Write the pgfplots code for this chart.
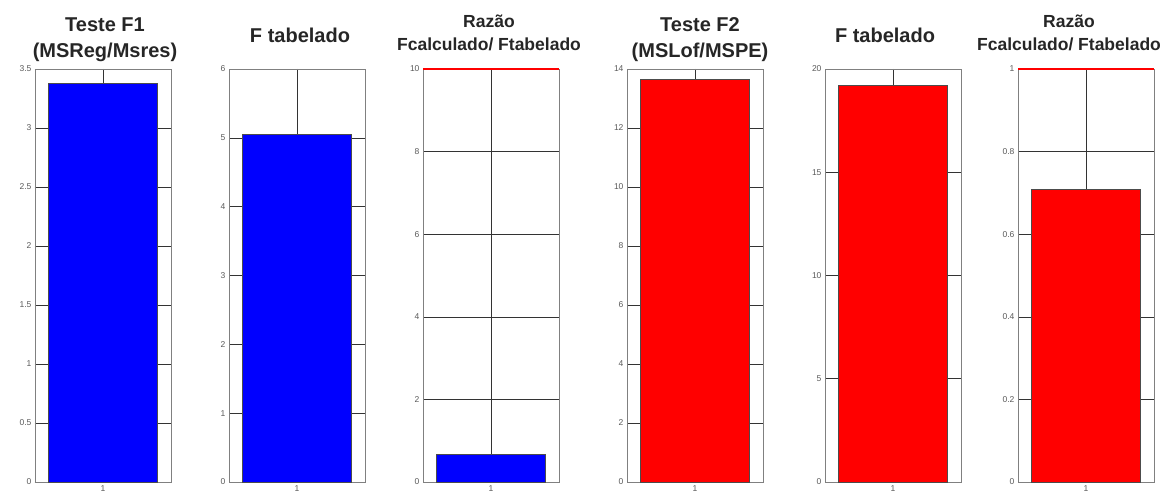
\documentclass[border=0pt]{standalone}
\usepackage{pgfplots}
\pgfplotsset{compat=1.18}
\usepackage{fontspec}
\setmainfont{Liberation Sans}
\definecolor{mblue}{RGB}{0,0,255}
\definecolor{mred}{RGB}{255,0,0}
\pgfplotsset{
 panel/.style={
  scale only axis, width=136pt, height=413pt, anchor=south west,
  xmin=0.5, xmax=1.5, ymin=0, xtick={1},
  grid=major, major grid style={black!80, line width=0.5pt},
  axis line style={black!50, line width=0.6pt}, tick style={black!80, line width=0.5pt},
  tick align=inside, major tick length=4pt,
  ticklabel style={font=\fontsize{8.5}{9}\selectfont, text=black!65},
  /pgf/number format/assume math mode=true,
  clip=false,
 },
 bluebar/.style={ybar, bar width=0.8, fill=mblue, draw=black!70, line width=0.5pt},
 redbar/.style={ybar, bar width=0.8, fill=mred, draw=black!70, line width=0.5pt},
}
\begin{document}
\begin{tikzpicture}
\useasboundingbox (0pt,0pt) rectangle (1171pt,500pt);
\tikzset{ttl/.style={anchor=base, font=\bfseries\fontsize{20}{22}\selectfont, text=black!85},
         ttls/.style={anchor=base, font=\bfseries\fontsize{17.5}{20}\selectfont, text=black!85}}
% Panel 1
\begin{axis}[panel, at={(35pt,18pt)}, ymax=3.5, ytick={0,0.5,...,3.5}]
\addplot[bluebar] coordinates {(1,3.38)};
\end{axis}
% Panel 2
\begin{axis}[panel, at={(229pt,18pt)}, ymax=6, ytick={0,1,...,6}]
\addplot[bluebar] coordinates {(1,5.05)};
\end{axis}
% Panel 3
\begin{axis}[panel, at={(423pt,18pt)}, ymax=10, ytick={0,2,...,10}]
\addplot[bluebar] coordinates {(1,0.67)};
\addplot[mred, line width=2pt, sharp plot, no marks] coordinates {(0.5,10) (1.5,10)};
\end{axis}
% Panel 4
\begin{axis}[panel, at={(627pt,18pt)}, ymax=14, ytick={0,2,...,14}]
\addplot[redbar] coordinates {(1,13.66)};
\end{axis}
% Panel 5
\begin{axis}[panel, at={(825pt,18pt)}, ymax=20, ytick={0,5,...,20}]
\addplot[redbar] coordinates {(1,19.2)};
\end{axis}
% Panel 6
\begin{axis}[panel, at={(1018pt,18pt)}, ymax=1, ytick={0,0.2,...,1}, yticklabels={0,0.2,0.4,0.6,0.8,1}]
\addplot[redbar] coordinates {(1,0.71)};
\addplot[mred, line width=2pt, sharp plot, no marks] coordinates {(0.5,1) (1.5,1)};
\end{axis}
% Titles
\node[ttl] at (105pt,468pt) {Teste F1};
\node[ttl] at (105pt,442pt) {(MSReg/Msres)};
\node[ttl] at (300pt,457pt) {F tabelado};
\node[ttls] at (489pt,472pt) {Razão};
\node[ttls] at (489pt,449pt) {Fcalculado/ Ftabelado};
\node[ttl] at (700pt,468pt) {Teste F2};
\node[ttl] at (700pt,442pt) {(MSLof/MSPE)};
\node[ttl] at (885pt,457pt) {F tabelado};
\node[ttls] at (1069pt,472pt) {Razão};
\node[ttls] at (1069pt,449pt) {Fcalculado/ Ftabelado};
\end{tikzpicture}
\end{document}
